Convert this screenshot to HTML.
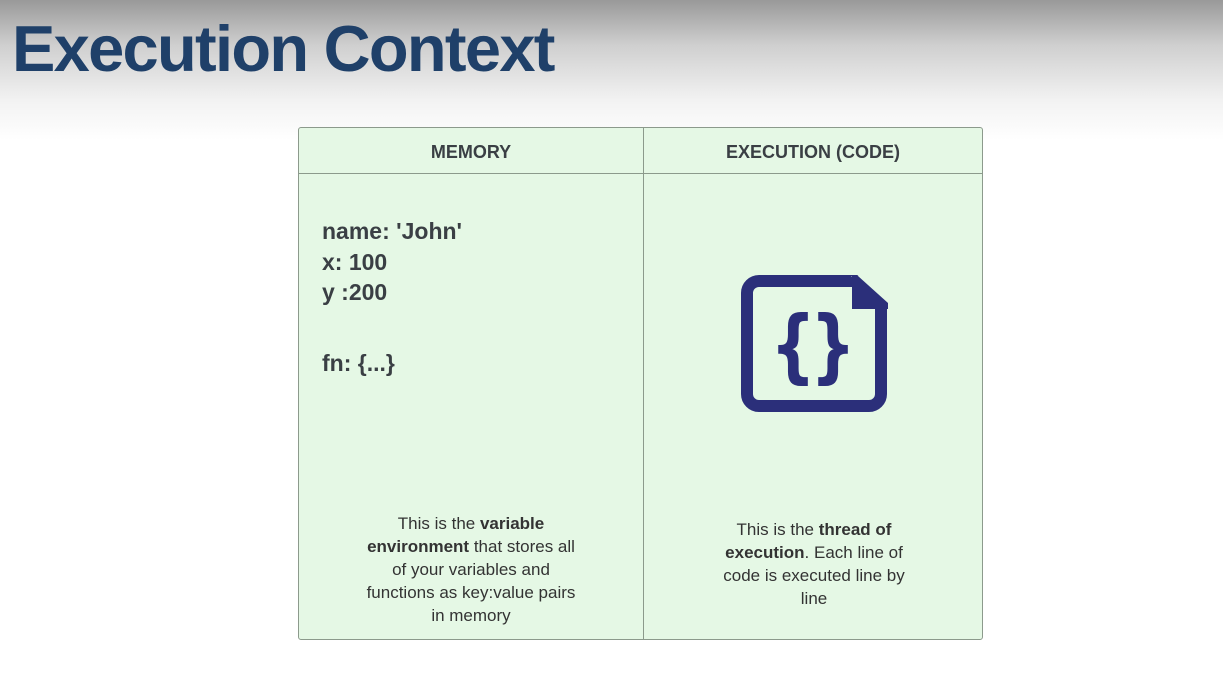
<!DOCTYPE html>
<html><head><style>
body{margin:0;width:1223px;height:697px;overflow:hidden;font-family:"Liberation Sans",sans-serif;background:linear-gradient(#999 0px,#cfcfcf 45px,#f2f2f2 100px,#fff 140px,#fff 697px);position:relative}
.t{position:absolute;left:12px;top:11px;font-size:65px;font-weight:bold;color:#1f4069;letter-spacing:-1.7px}
.box{position:absolute;left:298px;top:127px;width:683px;height:511px;border:1px solid #8c9a8c;border-radius:3px;background:#e5f8e5}
.hd{position:absolute;top:0;height:45px;border-bottom:1px solid #8c9a8c;font-size:18px;font-weight:bold;color:#3a3f44;text-align:center;line-height:48px}
.vl{position:absolute;left:344px;top:0;width:1px;height:511px;background:#8c9a8c}
.mem{position:absolute;left:23px;top:88px;font-size:23px;font-weight:bold;color:#3a3f44;line-height:30.5px}
.d{position:absolute;font-size:17px;color:#333;text-align:center;line-height:23px}
</style></head><body>
<div class="t">Execution Context</div>
<div class="box">
<div class="hd" style="left:0;width:344px">MEMORY</div>
<div class="hd" style="left:345px;width:338px">EXECUTION (CODE)</div>
<div class="vl"></div>
<div class="mem">name: 'John'<br>x: 100<br>y :200<br><div style="height:40px"></div>fn: {...}</div>
<div class="d" style="left:52px;width:240px;top:384px">This is the <b>variable<br>environment</b> that stores all<br>of your variables and<br>functions as key:value pairs<br>in memory</div>
<div class="d" style="left:410px;width:210px;top:390px">This is the <b>thread of execution</b>. Each line of code is executed line by line</div>
</div>
<svg style="position:absolute;left:0;top:0" width="1223" height="697">
<path d="M759 281 H855 L881 304 V394 A12 12 0 0 1 869 406 H759 A12 12 0 0 1 747 394 V293 A12 12 0 0 1 759 281 Z" fill="none" stroke="#2b2f7a" stroke-width="12"/>
<path d="M851 276 L892 306 L892 276 Z" fill="#e5f8e5"/>
<path d="M852 276 H858 L888 303 V309 H852 Z" fill="#2b2f7a"/>
<g font-family="DejaVu Sans,sans-serif" font-weight="bold" font-size="80" fill="#2b2f7a" text-anchor="middle">
<text transform="translate(793,373) scale(0.8,1)">{</text>
<text transform="translate(833,373) scale(0.8,1)">}</text>
</g>
</svg>
</body></html>
